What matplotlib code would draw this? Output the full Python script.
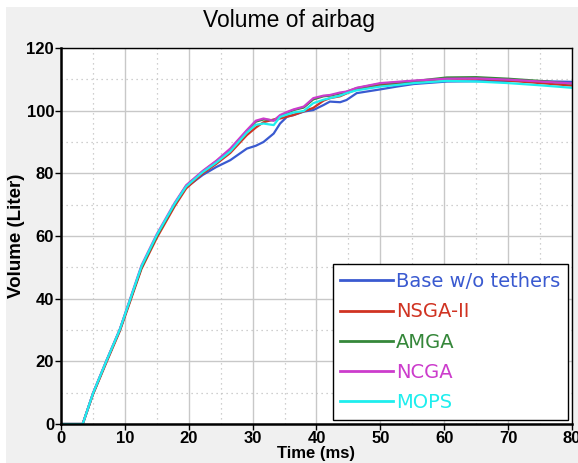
import matplotlib.pyplot as plt
from matplotlib.patches import Rectangle
from matplotlib.ticker import MultipleLocator

# Time samples (ms) shared by all curves
time_ms = [0, 3.4, 5, 7.1, 9.2, 10.9, 12.6, 15, 17.8, 19.6, 22.2, 24.3, 26.5,
           29.1, 30.5, 31.7, 33.3, 34.3, 35.4, 36.4, 38, 39.5, 41.1, 42.1,
           43.7, 44.7, 46.3, 50, 52.6, 55.2, 60.4, 65, 70, 75, 80]

# Volume (Liter) per design
base = [0, 0, 9.6, 20, 30, 40, 50, 60, 70, 75.5, 79.5, 82, 84.2,
        87.9, 88.8, 90, 92.7, 95.9, 98.1, 98.6, 99.7, 100.2, 101.8, 102.9,
        102.7, 103.4, 105.6, 106.8, 107.7, 108.5, 109.3, 109.4, 109.5, 109.4, 109.2]
nsga2 = [0, 0, 9.4, 19.6, 29.6, 39.5, 49.5, 59.4, 69.5, 75.2, 80, 83, 86.5,
         92.2, 94.6, 96.3, 97.2, 97.5, 98.1, 98.6, 99.8, 100.9, 103.2, 104,
         104.6, 105.5, 106.8, 108.2, 108.6, 109.2, 110.2, 110.2, 109.6, 108.8, 108]
amga = [0, 0, 9.6, 20, 30, 40, 50, 60, 70.2, 76, 80.6, 83.8, 87.5,
        93.5, 96.5, 97.2, 96.9, 98.2, 99.3, 100.2, 101, 103.6, 104.6, 104.8,
        105.5, 106, 107.2, 108.6, 109, 109.4, 110.6, 110.7, 110.2, 109.5, 108.6]
ncga = [0, 0, 9.8, 20.2, 30.2, 40.4, 50.6, 60.6, 70.6, 76.2, 80.8, 84, 87.9,
        93.8, 96.8, 97.5, 96.8, 98.6, 99.6, 100.4, 101.3, 104, 104.8, 105,
        105.8, 106.1, 107.3, 108.8, 109.2, 109.6, 110.2, 110.3, 109.9, 109.3, 108.7]
mops = [0, 0, 9.7, 20.1, 30.1, 40.2, 50.3, 60.3, 70.3, 75.8, 80.4, 83.4, 87,
        93, 95.5, 95.9, 95.4, 98, 98.8, 99.4, 99.9, 102.4, 103.5, 104,
        104.8, 105.6, 106.5, 107.7, 108.2, 108.8, 109.5, 109.3, 108.8, 108.1, 107.3]

labels = ['Base w/o tethers', 'NSGA-II', 'AMGA', 'NCGA', 'MOPS']
colors = ['#3a5ad0', '#d03322', '#35873a', '#cc3ccc', '#1eeeee']
series = [base, nsga2, amga, ncga, mops]

fig = plt.figure(figsize=(5.78, 4.63), dpi=100, facecolor='white')
# gray panel with a thin white strip at the left and top
fig.patches.append(Rectangle((6 / 578, 0), 1, 1 - 7 / 463, transform=fig.transFigure,
                             facecolor='#f0f0f0', edgecolor='none', zorder=-10))
ax = fig.add_axes([0.1055, 0.0842, 0.8841, 0.8121])
ax.set_facecolor('white')

for vals, lab, col in zip(series, labels, colors):
    ax.plot(time_ms, vals, color=col, lw=1.6, label=lab)

ax.set_xlim(0, 80)
ax.set_ylim(0, 120)
ax.xaxis.set_major_locator(MultipleLocator(10))
ax.xaxis.set_minor_locator(MultipleLocator(5))
ax.yaxis.set_major_locator(MultipleLocator(20))
ax.yaxis.set_minor_locator(MultipleLocator(10))
ax.grid(which='major', color='#c8c8c8', lw=1.0, ls='-')
ax.grid(which='minor', color='#c0c0c0', lw=0.9, ls=(0, (1, 3)))
ax.set_axisbelow(True)

tick_font = ['Liberation Sans Narrow', 'Liberation Sans', 'DejaVu Sans']
ax.tick_params(which='major', direction='out', length=4, width=1, pad=1,
               labelsize=12, colors='black')
ax.tick_params(which='minor', length=0)
for lbl in ax.get_xticklabels() + ax.get_yticklabels():
    lbl.set_family(tick_font)
    lbl.set_fontweight('bold')

for side in ['top', 'right']:
    ax.spines[side].set_linewidth(1.0)
for side in ['left', 'bottom']:
    ax.spines[side].set_linewidth(1.8)

ax.set_xlabel('Time (ms)', fontsize=12, fontweight='bold',
              family=['Liberation Sans', 'DejaVu Sans'])
ax.xaxis.set_label_coords(0.5, -0.058)
ax.set_ylabel('Volume (Liter)', fontsize=13.5, fontweight='bold',
              family=['Liberation Sans', 'DejaVu Sans'])
ax.yaxis.set_label_coords(-0.07, 0.5)
fig.text(0.5, 0.955, 'Volume of airbag', ha='center', va='center', fontsize=16.5,
         family=['Liberation Sans', 'DejaVu Sans'])

leg = ax.legend(loc='lower right', bbox_to_anchor=(0.992, 0.0106),
                frameon=True, fancybox=False, edgecolor='black', framealpha=1,
                handlelength=2.7, handletextpad=0.15, labelspacing=0.58,
                borderpad=0.4, borderaxespad=0,
                prop={'family': ['DejaVu Sans'], 'size': 14})
leg.get_frame().set_linewidth(1.0)
for txt, col in zip(leg.get_texts(), colors):
    txt.set_color(col)
for line in leg.get_lines():
    line.set_linewidth(2)

fig.savefig('out.png', dpi=100, facecolor=fig.get_facecolor())
